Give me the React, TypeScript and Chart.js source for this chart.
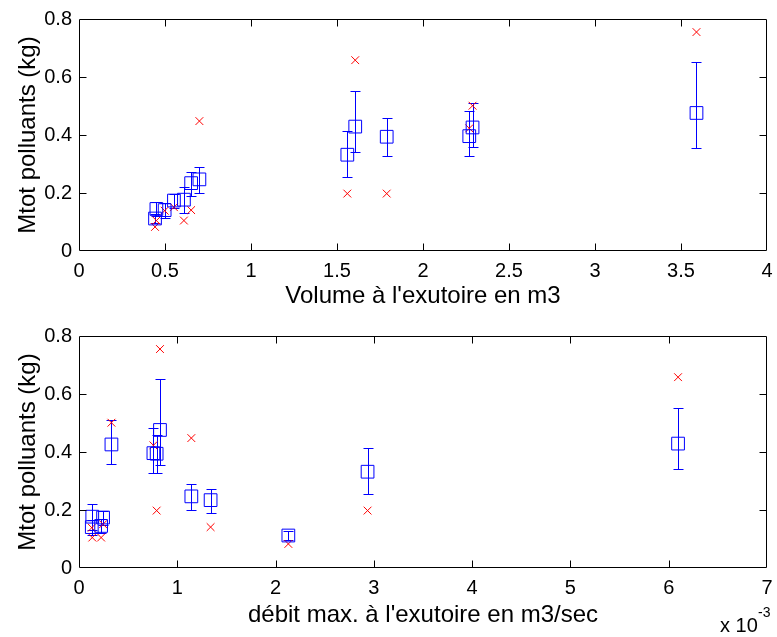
import React, { useEffect, useRef } from "react";
import { Chart, registerables } from "chart.js";

Chart.register(...registerables);

// --- data (one entry per rain event) ---
const volume = [0.442, 0.45, 0.498, 0.552, 0.61, 0.652, 0.7, 1.56, 1.606, 1.789, 2.269, 2.288, 3.59];
const debitMax = [0.00213, 0.000225, 0.00013, 0.000245, 0.000135, 0.001339, 0.001143, 0.002936, 0.006095, 0.00079, 0.000757, 0.00033, 0.000824];
const meanMass = [0.112, 0.145, 0.141, 0.174, 0.177, 0.234, 0.247, 0.332, 0.429, 0.394, 0.396, 0.426, 0.476];
const lowMass = [0.097, 0.12, 0.115, 0.15, 0.13, 0.191, 0.201, 0.256, 0.342, 0.328, 0.328, 0.357, 0.356];
const highMass = [0.127, 0.17, 0.167, 0.198, 0.22, 0.271, 0.288, 0.415, 0.553, 0.46, 0.483, 0.511, 0.653];
const measuredMass = [0.083, 0.105, 0.139, 0.151, 0.105, 0.141, 0.448, 0.198, 0.658, 0.198, 0.423, 0.501, 0.755];

const yTitle = "Mtot polluants (kg)";
const xTitleTop = "Volume à l'exutoire en m3";
const xTitleBottom = "débit max. à l'exutoire en m3/sec";
const exponentBase = "x 10";
const exponentPower = "-3";

const FONT = "'Liberation Sans', Arial, Helvetica, sans-serif";

type PlotProps = {
  xs: number[];
  xMin: number;
  xMax: number;
  xStep: number;
  xTitle: string;
  fmtX: (v: number) => string;
  height: number;
  plotTop: number;
  plotBottom: number;
  exponent?: boolean;
};

function SubPlot(props: PlotProps) {
  const ref = useRef<HTMLCanvasElement>(null);
  useEffect(() => {
    const canvas = ref.current;
    if (!canvas) return;
    const { xs, xMin, xMax, xStep, xTitle, fmtX, height, plotTop, plotBottom, exponent } = props;

    const errPlugin = {
      id: "errbars",
      beforeDatasetsDraw(chart: any) {
        const ctx = chart.ctx;
        const sx = chart.scales.x;
        const sy = chart.scales.y;
        ctx.save();
        ctx.strokeStyle = "#0000ff";
        ctx.lineWidth = 1;
        ctx.beginPath();
        for (let i = 0; i < xs.length; i++) {
          const px = Math.round(sx.getPixelForValue(xs[i])) + 0.5;
          const plo = Math.round(sy.getPixelForValue(lowMass[i])) + 0.5;
          const phi = Math.round(sy.getPixelForValue(highMass[i])) + 0.5;
          ctx.moveTo(px, plo);
          ctx.lineTo(px, phi);
          ctx.moveTo(px - 5, plo);
          ctx.lineTo(px + 5, plo);
          ctx.moveTo(px - 5, phi);
          ctx.lineTo(px + 5, phi);
        }
        ctx.stroke();
        ctx.restore();
      },
    };

    const framePlugin = {
      id: "frame",
      afterDraw(chart: any) {
        const ctx = chart.ctx;
        const a = chart.chartArea;
        const sx = chart.scales.x;
        const sy = chart.scales.y;
        const L = Math.round(a.left) + 0.5;
        const R = Math.round(a.right) - 0.5;
        const T = Math.round(a.top) + 0.5;
        const B = Math.round(a.bottom) - 0.5;
        const tl = 7;
        ctx.save();
        ctx.strokeStyle = "#000";
        ctx.lineWidth = 1;
        ctx.beginPath();
        ctx.rect(L, T, R - L, B - T);
        sx.ticks.forEach((t: any) => {
          const p = Math.round(sx.getPixelForValue(t.value)) + 0.5;
          if (p <= L + 1 || p >= R - 1) return;
          ctx.moveTo(p, B);
          ctx.lineTo(p, B - tl);
          ctx.moveTo(p, T);
          ctx.lineTo(p, T + tl);
        });
        sy.ticks.forEach((t: any) => {
          const p = Math.round(sy.getPixelForValue(t.value)) + 0.5;
          if (p <= T + 1 || p >= B - 1) return;
          ctx.moveTo(L, p);
          ctx.lineTo(L + tl, p);
          ctx.moveTo(R, p);
          ctx.lineTo(R - tl, p);
        });
        ctx.stroke();
        if (exponent) {
          ctx.fillStyle = "#000";
          ctx.textAlign = "left";
          ctx.textBaseline = "alphabetic";
          ctx.font = `20px ${FONT}`;
          ctx.fillText(exponentBase, 720, chart.height - 5);
          ctx.font = `14px ${FONT}`;
          ctx.fillText(exponentPower, 758, chart.height - 20);
        }
        ctx.restore();
      },
    };

    const chart = new Chart(canvas, {
      type: "scatter",
      data: {
        datasets: [
          {
            label: "moyenne",
            data: xs.map((x, i) => ({ x, y: meanMass[i] })),
            pointStyle: "rect",
            radius: 9,
            borderColor: "#0000ff",
            backgroundColor: "rgba(0,0,0,0)",
            borderWidth: 1,
          },
          {
            label: "mesure",
            data: xs.map((x, i) => ({ x, y: measuredMass[i] })),
            pointStyle: "crossRot",
            radius: 5.5,
            borderColor: "#ff0000",
            backgroundColor: "#ff0000",
            borderWidth: 1,
          },
        ],
      },
      options: {
        animation: false,
        responsive: false,
        layout: { padding: { top: plotTop, right: 5, left: 0, bottom: 0 } },
        plugins: { legend: { display: false }, tooltip: { enabled: false } },
        scales: {
          x: {
            type: "linear",
            min: xMin,
            max: xMax,
            grid: { display: false, drawTicks: false },
            border: { display: false },
            ticks: {
              stepSize: xStep,
              color: "#000",
              font: { size: 20, family: FONT },
              padding: 8,
              maxRotation: 0,
              autoSkip: false,
              callback: (v: any) => fmtX(Number(v)),
            },
            title: {
              display: true,
              text: xTitle,
              color: "#000",
              font: { size: 24, family: FONT },
              padding: { top: 0, bottom: 7 },
            },
            afterFit: (s: any) => {
              s.height = height - plotBottom;
              s.paddingLeft = 0;
              s.paddingRight = 0;
            },
          },
          y: {
            type: "linear",
            min: 0,
            max: 0.8,
            grid: { display: false, drawTicks: false },
            border: { display: false },
            ticks: {
              stepSize: 0.2,
              color: "#000",
              font: { size: 20, family: FONT },
              padding: 7,
              callback: (v: any) => String(+Number(v).toFixed(1)),
            },
            title: {
              display: true,
              text: yTitle,
              color: "#000",
              font: { size: 24, family: FONT },
              padding: { top: 14, bottom: 0 },
            },
            afterFit: (s: any) => {
              s.width = 79;
              s.paddingTop = 0;
              s.paddingBottom = 0;
            },
          },
        },
      },
      plugins: [errPlugin, framePlugin],
    } as any);
    return () => chart.destroy();
  }, []);
  return (
    <canvas
      ref={ref}
      width={777}
      height={props.height}
      style={{ display: "block", width: 777, height: props.height }}
    />
  );
}

export default function App() {
  return (
    <div style={{ position: "absolute", left: 0, top: 0, width: 777, height: 637, background: "#fff" }}>
      <SubPlot
        xs={volume}
        xMin={0}
        xMax={4}
        xStep={0.5}
        xTitle={xTitleTop}
        fmtX={(v) => String(+v.toFixed(1))}
        height={318}
        plotTop={19}
        plotBottom={251}
      />
      <SubPlot
        xs={debitMax}
        xMin={0}
        xMax={0.007}
        xStep={0.001}
        xTitle={xTitleBottom}
        fmtX={(v) => String(Math.round(v * 1000))}
        height={319}
        plotTop={18}
        plotBottom={250}
        exponent
      />
    </div>
  );
}
